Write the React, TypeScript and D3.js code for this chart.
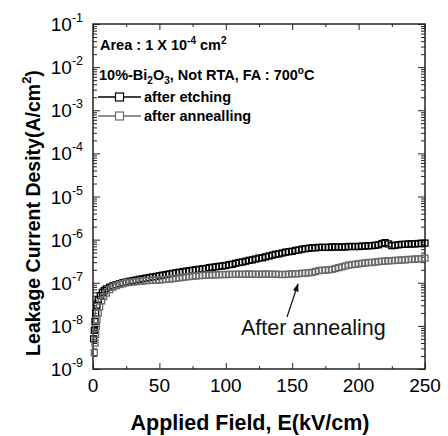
import React, { useEffect, useRef } from "react";
import * as d3 from "d3";

// low-field points (denser sampling near 0 kV/cm)
const fieldLowEtching = [0.5, 1, 1.5, 2, 3, 4, 5.5, 7, 8.5];
const currentLowEtching = [5.0e-9, 7.9e-9, 1.26e-8, 2.0e-8, 3.02e-8, 4.0e-8, 5.0e-8, 6.0e-8, 6.6e-8];
const fieldLowAnnealing = [1, 1.5, 2, 2.5, 3, 4, 5, 6.5, 8];
const currentLowAnnealing = [2.4e-9, 3.98e-9, 6.31e-9, 9.55e-9, 1.38e-8, 2.0e-8, 2.75e-8, 3.8e-8, 4.79e-8];

// main sweep, kV/cm
const fieldSweep = [
  10, 12.5, 15, 17.5, 20, 22.5, 25, 27.5, 30, 32.5,
  35, 37.5, 40, 42.5, 45, 47.5, 50, 52.5, 55, 57.5,
  60, 62.5, 65, 67.5, 70, 72.5, 75, 77.5, 80, 82.5,
  85, 87.5, 90, 92.5, 95, 97.5, 100, 102.5, 105, 107.5,
  110, 112.5, 115, 117.5, 120, 122.5, 125, 127.5, 130, 132.5,
  135, 137.5, 140, 142.5, 145, 147.5, 150, 152.5, 155, 157.5,
  160, 162.5, 165, 167.5, 170, 172.5, 175, 177.5, 180, 182.5,
  185, 187.5, 190, 192.5, 195, 197.5, 200, 202.5, 205, 207.5,
  210, 212.5, 215, 217.5, 220, 222.5, 225, 227.5, 230, 232.5,
  235, 237.5, 240, 242.5, 245, 247.5, 250,
];

// A/cm^2
const currentEtching = [
  7.2e-8, 7.9e-8, 8.5e-8, 9.0e-8, 9.5e-8, 1.0e-7, 1.04e-7, 1.08e-7, 1.12e-7, 1.16e-7,
  1.2e-7, 1.24e-7, 1.28e-7, 1.32e-7, 1.36e-7, 1.4e-7, 1.45e-7, 1.5e-7, 1.55e-7, 1.6e-7,
  1.65e-7, 1.7e-7, 1.75e-7, 1.8e-7, 1.85e-7, 1.9e-7, 1.95e-7, 2.0e-7, 2.05e-7, 2.1e-7,
  2.14e-7, 2.24e-7, 2.29e-7, 2.34e-7, 2.4e-7, 2.45e-7, 2.51e-7, 2.63e-7, 2.69e-7, 2.82e-7,
  2.95e-7, 3.02e-7, 3.16e-7, 3.31e-7, 3.39e-7, 3.55e-7, 3.72e-7, 3.8e-7, 3.98e-7, 4.17e-7,
  4.37e-7, 4.57e-7, 4.68e-7, 4.9e-7, 5.13e-7, 5.25e-7, 5.37e-7, 5.62e-7, 5.75e-7, 6.03e-7,
  6.17e-7, 6.31e-7, 6.46e-7, 6.46e-7, 6.61e-7, 6.61e-7, 6.61e-7, 6.61e-7, 6.76e-7, 6.76e-7,
  6.76e-7, 6.76e-7, 6.76e-7, 6.92e-7, 6.92e-7, 6.92e-7, 6.92e-7, 7.08e-7, 7.08e-7, 7.24e-7,
  7.24e-7, 7.41e-7, 7.59e-7, 8.13e-7, 8.51e-7, 7.94e-7, 7.24e-7, 7.41e-7, 7.59e-7, 7.76e-7,
  7.76e-7, 7.94e-7, 7.94e-7, 7.94e-7, 8.13e-7, 8.13e-7, 8.32e-7,
];

const currentAnnealing = [
  5.75e-8, 6.92e-8, 7.94e-8, 8.6e-8, 9.1e-8, 9.5e-8, 1.0e-7, 1.02e-7, 1.04e-7, 1.06e-7,
  1.08e-7, 1.1e-7, 1.12e-7, 1.13e-7, 1.14e-7, 1.15e-7, 1.16e-7, 1.18e-7, 1.2e-7, 1.22e-7,
  1.24e-7, 1.27e-7, 1.3e-7, 1.33e-7, 1.36e-7, 1.39e-7, 1.42e-7, 1.44e-7, 1.46e-7, 1.48e-7,
  1.5e-7, 1.51e-7, 1.52e-7, 1.53e-7, 1.54e-7, 1.55e-7, 1.55e-7, 1.56e-7, 1.56e-7, 1.57e-7,
  1.58e-7, 1.56e-7, 1.58e-7, 1.6e-7, 1.57e-7, 1.58e-7, 1.56e-7, 1.58e-7, 1.6e-7, 1.58e-7,
  1.57e-7, 1.58e-7, 1.56e-7, 1.55e-7, 1.56e-7, 1.58e-7, 1.6e-7, 1.62e-7, 1.62e-7, 1.66e-7,
  1.66e-7, 1.7e-7, 1.74e-7, 1.82e-7, 1.91e-7, 1.95e-7, 1.95e-7, 2.0e-7, 2.04e-7, 2.14e-7,
  2.24e-7, 2.34e-7, 2.45e-7, 2.57e-7, 2.63e-7, 2.69e-7, 2.75e-7, 2.82e-7, 2.88e-7, 2.95e-7,
  2.95e-7, 3.02e-7, 3.09e-7, 3.16e-7, 3.16e-7, 3.24e-7, 3.24e-7, 3.31e-7, 3.31e-7, 3.39e-7,
  3.39e-7, 3.47e-7, 3.47e-7, 3.55e-7, 3.55e-7, 3.63e-7, 3.72e-7,
];

const xTicks = [0, 50, 100, 150, 200, 250];
const xMinorTicks = [25, 75, 125, 175, 225];
const yExponents = ["-9", "-8", "-7", "-6", "-5", "-4", "-3", "-2", "-1"];

const FONT = "'Liberation Sans', Arial, Helvetica, sans-serif";
const ETCH_COLOR = "#000";
const ANNEAL_COLOR = "#6a6a6a";

const App = () => {
  const ref = useRef<SVGSVGElement | null>(null);
  const width = 448;
  const height = 436;

  useEffect(() => {
    const svg = d3.select(ref.current);
    svg.selectAll("*").remove();

    const margin = { top: 24, right: 23, bottom: 67, left: 93 };
    const x = d3.scaleLinear().domain([0, 250]).range([margin.left, width - margin.right]);
    const y = d3.scaleLog().domain([1e-9, 1e-1]).range([height - margin.bottom, margin.top]);

    const majorY = yExponents.map((e) => Math.pow(10, +e));
    const minorY: number[] = [];
    yExponents.slice(0, -1).forEach((e) => {
      for (let m = 2; m <= 9; m++) minorY.push(m * Math.pow(10, +e));
    });

    const tickStyle = (g: any) => {
      g.select(".domain").remove();
      g.selectAll("line").attr("stroke", "#222").attr("stroke-width", 1);
      g.selectAll("text").remove();
    };

    // ticks, all pointing inward
    const bottom = height - margin.bottom;
    const right = width - margin.right;
    svg.append("g").attr("transform", `translate(0,${bottom})`)
      .call(d3.axisBottom(x).tickValues(xTicks).tickSize(-6)).call(tickStyle);
    svg.append("g").attr("transform", `translate(0,${bottom})`)
      .call(d3.axisBottom(x).tickValues(xMinorTicks).tickSize(-3)).call(tickStyle);
    svg.append("g").attr("transform", `translate(0,${margin.top})`)
      .call(d3.axisTop(x).tickValues(xTicks).tickSize(-6)).call(tickStyle);
    svg.append("g").attr("transform", `translate(0,${margin.top})`)
      .call(d3.axisTop(x).tickValues(xMinorTicks).tickSize(-3)).call(tickStyle);
    svg.append("g").attr("transform", `translate(${margin.left},0)`)
      .call(d3.axisLeft(y).tickValues(majorY).tickSize(-7)).call(tickStyle);
    svg.append("g").attr("transform", `translate(${margin.left},0)`)
      .call(d3.axisLeft(y).tickValues(minorY).tickSize(-4)).call(tickStyle);
    svg.append("g").attr("transform", `translate(${right},0)`)
      .call(d3.axisRight(y).tickValues(majorY).tickSize(-7)).call(tickStyle);
    svg.append("g").attr("transform", `translate(${right},0)`)
      .call(d3.axisRight(y).tickValues(minorY).tickSize(-4)).call(tickStyle);

    // frame
    svg.append("rect")
      .attr("x", margin.left).attr("y", margin.top)
      .attr("width", right - margin.left).attr("height", bottom - margin.top)
      .attr("fill", "none").attr("stroke", "#222").attr("stroke-width", 1.5);

    // x tick labels
    svg.append("g").selectAll("text").data(xTicks).enter().append("text")
      .attr("x", (d) => x(d)).attr("y", bottom + 23)
      .attr("text-anchor", "middle")
      .attr("font-family", FONT).attr("font-size", 19)
      .text((d) => d);

    // y tick labels 10^n
    const yl = svg.append("g").selectAll("text").data(yExponents).enter().append("text")
      .attr("x", margin.left - 10).attr("y", (d) => y(Math.pow(10, +d)) + 7)
      .attr("text-anchor", "end")
      .attr("font-family", FONT).attr("font-size", 19);
    yl.append("tspan").text("10");
    yl.append("tspan").attr("font-size", 12.5).attr("dy", -9).text((d) => d);

    // axis titles
    svg.append("text")
      .attr("x", (margin.left + right) / 2 - 9).attr("y", 430)
      .attr("text-anchor", "middle")
      .attr("font-family", FONT).attr("font-weight", "bold").attr("font-size", 21.5)
      .text("Applied Field, E(kV/cm)");

    const yt = svg.append("text")
      .attr("transform", `translate(40,213) rotate(-90)`)
      .attr("text-anchor", "middle")
      .attr("font-family", FONT).attr("font-weight", "bold").attr("font-size", 19.5);
    yt.append("tspan").text("Leakage Current Desity(A/cm");
    yt.append("tspan").attr("font-size", 13).attr("dy", -9).text("2");
    yt.append("tspan").attr("dy", 9).text(")");

    // data
    const etching = fieldLowEtching.map((f, i) => ({ f, j: currentLowEtching[i] }))
      .concat(fieldSweep.map((f, i) => ({ f, j: currentEtching[i] })));
    const annealing = fieldLowAnnealing.map((f, i) => ({ f, j: currentLowAnnealing[i] }))
      .concat(fieldSweep.map((f, i) => ({ f, j: currentAnnealing[i] })));

    const s = 6;
    const drawSeries = (data: { f: number; j: number }[], color: string) => {
      svg.append("g").selectAll("rect").data(data).enter().append("rect")
        .attr("x", (d) => x(d.f) - s / 2).attr("y", (d) => y(d.j) - s / 2)
        .attr("width", s).attr("height", s)
        .attr("fill", "none").attr("stroke", color).attr("stroke-width", 1.3);
    };
    drawSeries(etching, ETCH_COLOR);
    drawSeries(annealing, ANNEAL_COLOR);

    // header text
    const bold = (t: any) => t.attr("font-family", FONT).attr("font-weight", "bold").attr("font-size", 14.5);
    const area = svg.append("text").attr("x", 100).attr("y", 50).call(bold);
    area.append("tspan").text("Area : 1 X 10");
    area.append("tspan").attr("font-size", 10).attr("dy", -6).text("-4");
    area.append("tspan").attr("dy", 6).text(" cm");
    area.append("tspan").attr("font-size", 10).attr("dy", -6).text("2");

    const cond = svg.append("text").attr("x", 99).attr("y", 80).call(bold);
    cond.append("tspan").text("10%-Bi");
    cond.append("tspan").attr("font-size", 10).attr("dy", 4).text("2");
    cond.append("tspan").attr("dy", -4).text("O");
    cond.append("tspan").attr("font-size", 10).attr("dy", 4).text("3");
    cond.append("tspan").attr("dy", -4).text(", Not RTA, FA : 700");
    cond.append("tspan").attr("font-size", 10).attr("dy", -6).text("o");
    cond.append("tspan").attr("dy", 6).text("C");

    // legend
    const legend = [
      { label: "after etching", color: ETCH_COLOR },
      { label: "after annealling", color: ANNEAL_COLOR },
    ];
    legend.forEach((d, i) => {
      const ly = 97 + i * 19;
      svg.append("line").attr("x1", 98).attr("x2", 141).attr("y1", ly).attr("y2", ly)
        .attr("stroke", d.color).attr("stroke-width", 1.5);
      svg.append("rect").attr("x", 115.5).attr("y", ly - 4).attr("width", 8).attr("height", 8)
        .attr("fill", "white").attr("stroke", d.color).attr("stroke-width", 1.2);
      svg.append("text").attr("x", 144).attr("y", ly + 5).call(bold).text(d.label);
    });

    // annotation
    svg.append("defs").append("marker")
      .attr("id", "arrowhead").attr("viewBox", "0 0 10 10")
      .attr("refX", 9).attr("refY", 5).attr("markerWidth", 7).attr("markerHeight", 7)
      .attr("orient", "auto")
      .append("path").attr("d", "M0,1.5 L10,5 L0,8.5 Z").attr("fill", "#111");
    svg.append("line")
      .attr("x1", 287).attr("y1", 317).attr("x2", 298).attr("y2", 284)
      .attr("stroke", "#111").attr("stroke-width", 1.2)
      .attr("marker-end", "url(#arrowhead)");
    svg.append("text").attr("x", 241).attr("y", 335)
      .attr("font-family", FONT).attr("font-size", 21.5).attr("fill", "#111")
      .text("After annealing");
  }, []);

  return (
    <svg
      ref={ref}
      width={width}
      height={height}
      style={{ position: "absolute", left: 0, top: 0, background: "white" }}
    />
  );
};

export default App;
